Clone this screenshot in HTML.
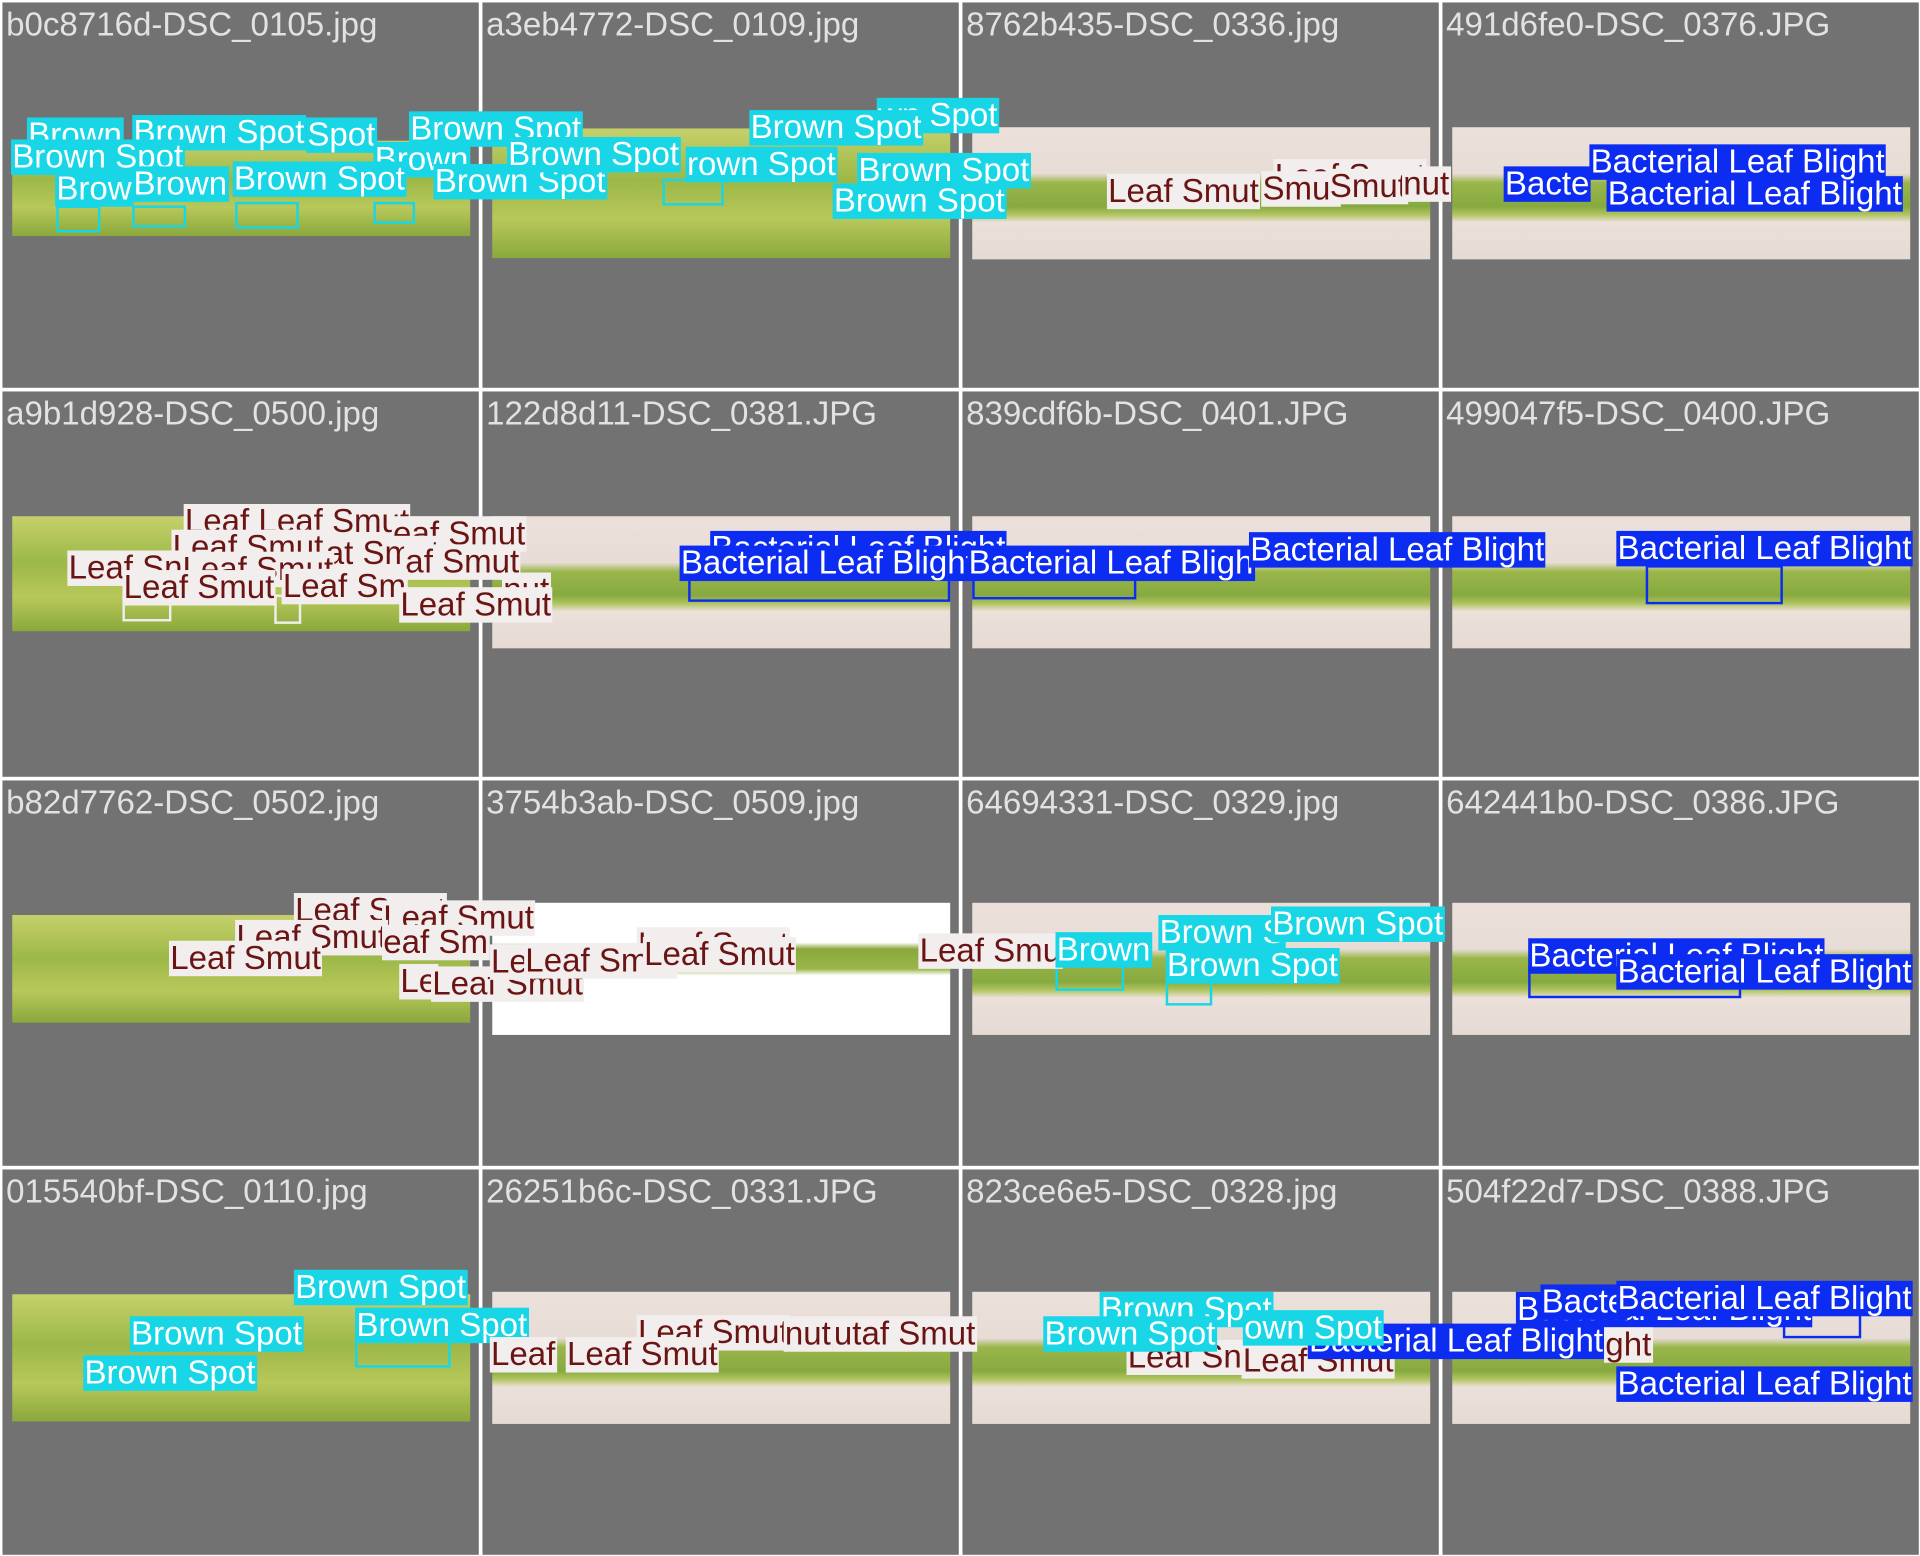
<!DOCTYPE html>
<html><head><meta charset="utf-8"><style>
html,body{margin:0;padding:0;background:#fff;width:1920px;height:1556px;overflow:hidden}
#w{position:absolute;left:0;top:0;width:1568px;height:1272px;transform:scale(1.22449,1.2233);transform-origin:0 0;background:#fff;font-family:"Liberation Sans",sans-serif}
.c{position:absolute;background:#727272;width:389px;height:315px;overflow:hidden}
.t{position:absolute;left:3px;top:3px;color:#e2e2e2;font-size:27px;white-space:nowrap}
.im{position:absolute;left:8px;width:374px;background:linear-gradient(#ece0da 0%,#e8dcd6 35%,#9ab64a 42%,#86aa40 60%,#b0c460 66%,#ece0da 72%,#e6dad4 100%)}
.g{background:linear-gradient(#c6d06a,#9cb848 40%,#b8c85a 70%,#8aa83c)}
.L{position:absolute;font-size:27px;line-height:29px;height:29px;padding:0 1px;white-space:nowrap;overflow:hidden}
.b{background:#18d6e6;color:#fff}
.s{background:#f2eeee;color:#6b1414}
.l{background:#0c2cf2;color:#fff}
.bx{position:absolute;border:2px solid}
</style></head><body><div id="w">
<div class="c" style="left:2px;top:2px"><div class="t">b0c8716d-DSC_0105.jpg</div><div class="im g" style="top:113px;height:78px"></div></div>
<div class="c" style="left:394px;top:2px"><div class="t">a3eb4772-DSC_0109.jpg</div><div class="im g" style="top:103px;height:106px"></div></div>
<div class="c" style="left:786px;top:2px"><div class="t">8762b435-DSC_0336.jpg</div><div class="im" style="top:102px;height:108px"></div></div>
<div class="c" style="left:1178px;top:2px"><div class="t">491d6fe0-DSC_0376.JPG</div><div class="im" style="top:102px;height:108px"></div></div>

<div class="c" style="left:2px;top:320px"><div class="t">a9b1d928-DSC_0500.jpg</div><div class="im g" style="top:102px;height:94px"></div></div>
<div class="c" style="left:394px;top:320px"><div class="t">122d8d11-DSC_0381.JPG</div><div class="im" style="top:102px;height:108px"></div></div>
<div class="c" style="left:786px;top:320px"><div class="t">839cdf6b-DSC_0401.JPG</div><div class="im" style="top:102px;height:108px"></div></div>
<div class="c" style="left:1178px;top:320px"><div class="t">499047f5-DSC_0400.JPG</div><div class="im" style="top:102px;height:108px"></div></div>

<div class="c" style="left:2px;top:638px"><div class="t">b82d7762-DSC_0502.jpg</div><div class="im g" style="top:110px;height:88px"></div></div>
<div class="c" style="left:394px;top:638px"><div class="t">3754b3ab-DSC_0509.jpg</div><div class="im" style="top:100px;height:108px;background:linear-gradient(#fff 30%,#8aa83c 35%,#9ab64a 50%,#fff 55%)"></div></div>
<div class="c" style="left:786px;top:638px"><div class="t">64694331-DSC_0329.jpg</div><div class="im" style="top:100px;height:108px"></div></div>
<div class="c" style="left:1178px;top:638px"><div class="t">642441b0-DSC_0386.JPG</div><div class="im" style="top:100px;height:108px"></div></div>

<div class="c" style="left:2px;top:956px"><div class="t">015540bf-DSC_0110.jpg</div><div class="im g" style="top:102px;height:104px"></div></div>
<div class="c" style="left:394px;top:956px"><div class="t">26251b6c-DSC_0331.JPG</div><div class="im" style="top:100px;height:108px"></div></div>
<div class="c" style="left:786px;top:956px"><div class="t">823ce6e5-DSC_0328.jpg</div><div class="im" style="top:100px;height:108px"></div></div>
<div class="c" style="left:1178px;top:956px"><div class="t">504f22d7-DSC_0388.JPG</div><div class="im" style="top:100px;height:108px"></div></div>

<div class="bx" style="left:46px;top:168px;width:32px;height:18px;border-color:#18d6e6"></div>
<div class="bx" style="left:108px;top:168px;width:40px;height:14px;border-color:#18d6e6"></div>
<div class="bx" style="left:192px;top:165px;width:48px;height:18px;border-color:#18d6e6"></div>
<div class="bx" style="left:305px;top:165px;width:30px;height:14px;border-color:#18d6e6"></div>
<div class="bx" style="left:541px;top:146px;width:46px;height:18px;border-color:#18d6e6"></div>
<div class="bx" style="left:100px;top:484px;width:36px;height:20px;border-color:#eee"></div>
<div class="bx" style="left:224px;top:486px;width:18px;height:20px;border-color:#eee"></div>
<div class="bx" style="left:562px;top:470px;width:210px;height:18px;border-color:#0c2cf2"></div>
<div class="bx" style="left:794px;top:470px;width:130px;height:16px;border-color:#0c2cf2"></div>
<div class="bx" style="left:1344px;top:462px;width:108px;height:28px;border-color:#0c2cf2"></div>
<div class="bx" style="left:862px;top:786px;width:52px;height:20px;border-color:#18d6e6"></div>
<div class="bx" style="left:952px;top:798px;width:34px;height:20px;border-color:#18d6e6"></div>
<div class="bx" style="left:1248px;top:790px;width:170px;height:22px;border-color:#0c2cf2"></div>
<div class="bx" style="left:290px;top:1092px;width:74px;height:22px;border-color:#18d6e6"></div>
<div class="bx" style="left:1456px;top:1070px;width:60px;height:20px;border-color:#0c2cf2"></div>

<div class="L b" style="left:22px;top:96px">Brown</div>
<div class="L b" style="left:108px;top:94px">Brown Spot</div>
<div class="L b" style="left:250px;top:96px">Spot</div>
<div class="L b" style="left:9px;top:114px">Brown Spot</div>
<div class="L b" style="left:334px;top:91px">Brown Spot</div>
<div class="L b" style="left:305px;top:116px">Brown</div>
<div class="L b" style="left:354px;top:134px">Brown Spot</div>
<div class="L b" style="left:45px;top:140px">Brow</div>
<div class="L b" style="left:108px;top:136px">Brown</div>
<div class="L b" style="left:190px;top:132px">Brown Spot</div>
<div class="L b" style="left:716px;top:80px">wn Spot</div>
<div class="L b" style="left:612px;top:90px">Brown Spot</div>
<div class="L b" style="left:560px;top:120px">rown Spot</div>
<div class="L b" style="left:414px;top:112px">Brown Spot</div>
<div class="L b" style="left:700px;top:125px">Brown Spot</div>
<div class="L b" style="left:680px;top:150px">Brown Spot</div>
<div class="L s" style="left:1040px;top:130px">Leaf Smut</div>
<div class="L s" style="left:904px;top:142px">Leaf Smut</div>
<div class="L s" style="left:1030px;top:140px">Smut</div>
<div class="L s" style="left:1085px;top:138px">Smut</div>
<div class="L s" style="left:1145px;top:136px">nut</div>
<div class="L l" style="left:1228px;top:136px">Bacte</div>
<div class="L l" style="left:1312px;top:144px">Bacterial Leaf Blight</div>
<div class="L l" style="left:1298px;top:118px">Bacterial Leaf Blight</div>

<div class="L s" style="left:150px;top:412px">Leaf Leaf Smut</div>
<div class="L s" style="left:320px;top:422px">eaf Smut</div>
<div class="L s" style="left:140px;top:433px">Leaf Smut</div>
<div class="L s" style="left:265px;top:438px">at Smut</div>
<div class="L s" style="left:330px;top:445px">af Smut</div>
<div class="L s" style="left:55px;top:450px">Leaf Sn</div>
<div class="L s" style="left:148px;top:451px">Leaf Smut</div>
<div class="L s" style="left:100px;top:466px">Leaf Smut</div>
<div class="L s" style="left:230px;top:465px">Leaf Sm</div>
<div class="L s" style="left:410px;top:468px">nut</div>
<div class="L s" style="left:326px;top:480px">Leaf Smut</div>
<div class="L l" style="left:580px;top:434px">Bacterial Leaf Blight</div>
<div class="L l" style="left:555px;top:446px">Bacterial Leaf Blight</div>
<div class="L l" style="left:790px;top:446px">Bacterial Leaf Bligh</div>
<div class="L l" style="left:1020px;top:435px">Bacterial Leaf Blight</div>
<div class="L l" style="left:1320px;top:434px">Bacterial Leaf Blight</div>

<div class="L s" style="left:240px;top:730px">Leaf Smut</div>
<div class="L s" style="left:312px;top:736px">Leaf Smut</div>
<div class="L s" style="left:192px;top:752px">Leaf Smut</div>
<div class="L s" style="left:312px;top:756px">eaf Sm</div>
<div class="L s" style="left:138px;top:769px">Leaf Smut</div>
<div class="L s" style="left:326px;top:788px">Le</div>
<div class="L s" style="left:352px;top:790px">Leaf Smut</div>
<div class="L s" style="left:520px;top:758px">Leaf Smut</div>
<div class="L s" style="left:400px;top:772px">Le</div>
<div class="L s" style="left:428px;top:771px">Leaf Smut</div>
<div class="L s" style="left:525px;top:766px">Leaf Smut</div>
<div class="L s" style="left:750px;top:763px">Leaf Smu</div>
<div class="L b" style="left:862px;top:762px">Brown</div>
<div class="L b" style="left:946px;top:748px">Brown S</div>
<div class="L b" style="left:1038px;top:741px">Brown Spot</div>
<div class="L b" style="left:952px;top:775px">Brown Spot</div>
<div class="L l" style="left:1248px;top:767px">Bacterial Leaf Blight</div>
<div class="L l" style="left:1320px;top:780px">Bacterial Leaf Blight</div>

<div class="L b" style="left:240px;top:1038px">Brown Spot</div>
<div class="L b" style="left:106px;top:1076px">Brown Spot</div>
<div class="L b" style="left:290px;top:1069px">Brown Spot</div>
<div class="L b" style="left:68px;top:1108px">Brown Spot</div>
<div class="L s" style="left:520px;top:1075px">Leaf Smut</div>
<div class="L s" style="left:680px;top:1076px">utaf Smut</div>
<div class="L s" style="left:640px;top:1076px">nut</div>
<div class="L s" style="left:400px;top:1093px">Leaf</div>
<div class="L s" style="left:462px;top:1093px">Leaf Smut</div>
<div class="L s" style="left:920px;top:1095px">Leaf Sn</div>
<div class="L s" style="left:1014px;top:1098px">Leaf Smut</div>
<div class="L l" style="left:1068px;top:1082px">Bacterial Leaf Blight</div>
<div class="L b" style="left:898px;top:1056px">Brown Spot</div>
<div class="L b" style="left:852px;top:1076px">Brown Spot</div>
<div class="L b" style="left:1015px;top:1071px">own Spot</div>
<div class="L l" style="left:1238px;top:1056px">Bacterial Leaf Blight</div>
<div class="L l" style="left:1258px;top:1050px">Bacte</div>
<div class="L l" style="left:1320px;top:1047px">Bacterial Leaf Blight</div>
<div class="L s" style="left:1310px;top:1085px">ght</div>
<div class="L l" style="left:1320px;top:1117px">Bacterial Leaf Blight</div>
</div></body></html>
